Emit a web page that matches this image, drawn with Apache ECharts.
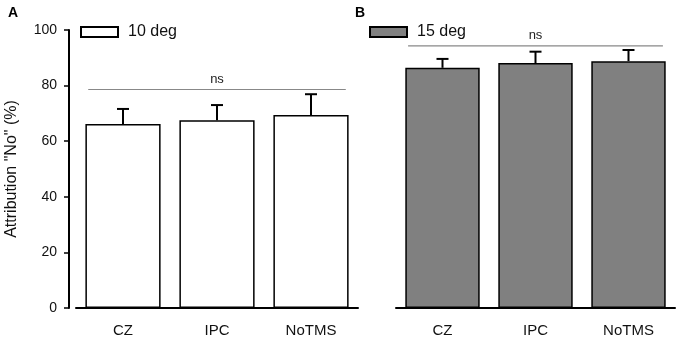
<!DOCTYPE html>
<html>
<head>
<meta charset="utf-8">
<script src="https://cdn.jsdelivr.net/npm/echarts@6/dist/echarts.min.js"></script>
<style>
  html, body { margin: 0; padding: 0; background: #fff; }
  #chart { width: 680px; height: 338px; }
</style>
</head>
<body>
<div id="chart"></div>
<script>
// Valores
const categories = ['CZ', 'IPC', 'NoTMS'];
const tenDeg = [66.2, 67.5, 69.4];
const tenDegErr = [5.4, 5.5, 7.5];
const fifteenDeg = [86.4, 88.1, 88.8];
const fifteenDegErr = [3.2, 4.1, 4.0];
const nsLevelA = 78.6;
const nsLevelB = 94.3;
const yTicks = [0, 20, 40, 60, 80, 100];

const chart = echarts.init(document.getElementById('chart'));
const FONT = '"Liberation Sans", Arial, sans-serif';

// Barra de error superior con tope
function errorBar(params, api) {
  const i = api.value(0);
  const v = api.value(1);
  const e = api.value(2);
  const base = api.coord([i, v]);
  const top = api.coord([i, v + e]);
  const style = { stroke: '#000', lineWidth: 2 };
  return {
    type: 'group',
    children: [
      { type: 'line', shape: { x1: base[0], y1: base[1], x2: top[0], y2: top[1] }, style },
      { type: 'line', shape: { x1: top[0] - 6, y1: top[1], x2: top[0] + 6, y2: top[1] }, style }
    ]
  };
}

// Línea "ns" sobre las tres barras
function nsLine(params, api) {
  const y = api.value(0);
  const left = api.coord([0, y]);
  const right = api.coord([categories.length - 1, y]);
  const band = api.size([1, 0])[0];
  const x1 = left[0] - band * 0.37;
  const x2 = right[0] + band * 0.37;
  return {
    type: 'group',
    children: [
      { type: 'line', shape: { x1, y1: left[1], x2, y2: left[1] }, style: { stroke: '#888', lineWidth: 1.2 } },
      { type: 'text', x: (x1 + x2) / 2, y: left[1] - 4,
        style: { text: 'ns', fill: '#222', font: '13px ' + FONT, align: 'center', verticalAlign: 'bottom' } }
    ]
  };
}

const xAxisBase = {
  type: 'category',
  data: categories,
  axisLine: { lineStyle: { color: '#000', width: 2 } },
  axisTick: { alignWithLabel: true, length: 3, lineStyle: { color: '#888' } },
  axisLabel: { color: '#111', fontSize: 15, fontFamily: FONT, margin: 15 }
};

const legendBase = {
  top: 19, itemWidth: 37, itemHeight: 10, icon: 'rect',
  textStyle: { fontSize: 16, color: '#111', fontFamily: FONT, padding: [0, 0, 0, 5] }
};

const options = {
  animation: false,
  textStyle: { fontFamily: FONT },
  graphic: [
    { type: 'text', left: 8, top: 6, style: { text: 'A', font: 'bold 14px ' + FONT, fill: '#000' } },
    { type: 'text', left: 355, top: 6, style: { text: 'B', font: 'bold 14px ' + FONT, fill: '#000' } }
  ],
  legend: [
    Object.assign({ data: ['10 deg'], left: 75 }, legendBase),
    Object.assign({ data: ['15 deg'], left: 364 }, legendBase)
  ],
  grid: [
    { left: 76, top: 30, width: 282, height: 280 },
    { left: 396, top: 30, width: 279, height: 280 }
  ],
  xAxis: [
    Object.assign({ gridIndex: 0 }, xAxisBase),
    Object.assign({ gridIndex: 1 }, xAxisBase)
  ],
  yAxis: [
    {
      gridIndex: 0, type: 'value', min: 0, max: 100, interval: 20, offset: 7,
      name: 'Attribution "No" (%)', nameLocation: 'middle', nameGap: 49,
      nameTextStyle: { fontSize: 16, color: '#111', fontFamily: FONT },
      axisLine: { show: true, lineStyle: { color: '#000', width: 2 } },
      axisTick: { show: true, length: 5, lineStyle: { color: '#000', width: 1.5 } },
      axisLabel: { color: '#111', fontSize: 14, fontFamily: FONT, margin: 12,
        formatter: v => yTicks.includes(v) ? String(v) : '' },
      splitLine: { show: false }
    },
    {
      gridIndex: 1, type: 'value', min: 0, max: 100, interval: 20, show: false,
      splitLine: { show: false }
    }
  ],
  series: [
    {
      name: '10 deg', type: 'bar', xAxisIndex: 0, yAxisIndex: 0, data: tenDeg,
      barCategoryGap: '20%',
      itemStyle: { color: '#ffffff', borderColor: '#000', borderWidth: 1.5 }
    },
    {
      name: 'err10', type: 'custom', xAxisIndex: 0, yAxisIndex: 0, renderItem: errorBar,
      data: tenDeg.map((v, i) => [i, v, tenDegErr[i]]), z: 3
    },
    {
      name: 'ns10', type: 'custom', xAxisIndex: 0, yAxisIndex: 0, renderItem: nsLine,
      encode: { y: 0 }, data: [[nsLevelA]], z: 3
    },
    {
      name: '15 deg', type: 'bar', xAxisIndex: 1, yAxisIndex: 1, data: fifteenDeg,
      barCategoryGap: '20%',
      itemStyle: { color: '#808080', borderColor: '#000', borderWidth: 1.5 }
    },
    {
      name: 'err15', type: 'custom', xAxisIndex: 1, yAxisIndex: 1, renderItem: errorBar,
      data: fifteenDeg.map((v, i) => [i, v, fifteenDegErr[i]]), z: 3
    },
    {
      name: 'ns15', type: 'custom', xAxisIndex: 1, yAxisIndex: 1, renderItem: nsLine,
      encode: { y: 0 }, data: [[nsLevelB]], z: 3
    }
  ]
};

chart.setOption(options);
</script>
</body>
</html>
